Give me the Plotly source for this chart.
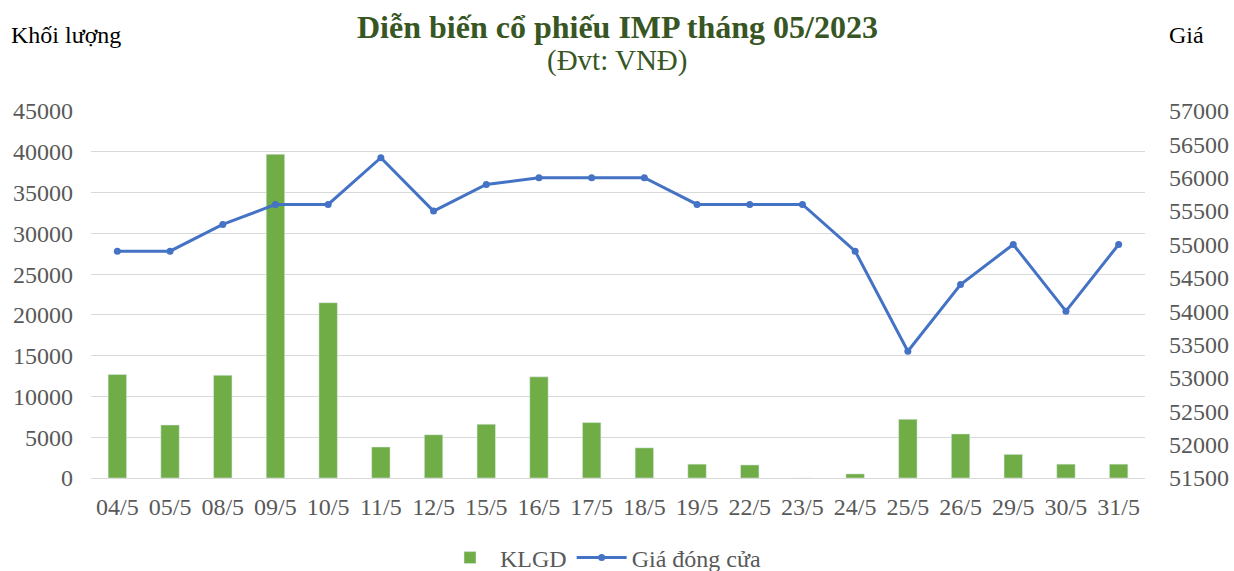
import plotly.graph_objects as go

dates = ["04/5","05/5","08/5","09/5","10/5","11/5","12/5","15/5","16/5","17/5",
         "18/5","19/5","22/5","23/5","24/5","25/5","26/5","29/5","30/5","31/5"]
klgd = [12700, 6500, 12600, 39700, 21500, 3800, 5300, 6600, 12400, 6800,
        3700, 1700, 1600, 0, 500, 7200, 5400, 2900, 1700, 1700]
gia = [54900, 54900, 55300, 55600, 55600, 56300, 55500, 55900, 56000, 56000,
       56000, 55600, 55600, 55600, 54900, 53400, 54400, 55000, 54000, 55000]

FONT = "Liberation Serif"
TICK = "#595959"
TS = 24

fig = go.Figure()
fig.add_trace(go.Bar(x=dates, y=klgd, name="KLGD", marker_color="#70AD47",
                     yaxis="y"))
fig.add_trace(go.Scatter(x=dates, y=gia, name="Giá đóng cửa", mode="lines+markers",
                         line=dict(color="#4472C4", width=3),
                         marker=dict(size=7, color="#4472C4"), yaxis="y2"))

W, H = 1234, 571
L, R, T, B = 91, 89, 111, 93
ph = H - T - B
pw = W - L - R
def py(pix):
    return (H - B - pix) / ph
def px(pix):
    return (pix - L) / pw

fig.update_layout(
    width=W, height=H,
    paper_bgcolor="white", plot_bgcolor="white",
    margin=dict(l=L, r=R, t=T, b=B, autoexpand=False),
    font=dict(family=FONT, size=TS, color=TICK),
    bargap=0.65,
    showlegend=True,
    legend=dict(orientation="h", x=px(440), xanchor="left",
                yref="container", y=(H - 558) / H, yanchor="middle",
                itemwidth=50,
                font=dict(family=FONT, size=24, color=TICK), traceorder="normal"),
    xaxis=dict(showgrid=False, showline=True, linecolor="#d9d9d9", linewidth=1,
               range=[-0.5, len(dates) - 0.5],
               ticks="", automargin=False, ticklabelstandoff=7,
               tickfont=dict(family=FONT, size=TS, color=TICK)),
    yaxis=dict(range=[0, 45000], dtick=5000, showgrid=True, gridcolor="#d9d9d9",
               zeroline=False, ticks="", tickformat="d", automargin=False,
               tickfont=dict(family=FONT, size=TS, color=TICK), ticklabelstandoff=17),
    yaxis2=dict(range=[51500, 57000], dtick=500, overlaying="y", side="right",
                showgrid=False, zeroline=False, ticks="", tickformat="d", automargin=False,
                tickfont=dict(family=FONT, size=TS, color=TICK), ticklabelstandoff=23),
)
fig.add_annotation(text="<b>Diễn biến cổ phiếu IMP tháng 05/2023</b>", x=px(617), xref="paper",
                   y=py(27), yref="paper", yanchor="middle", xanchor="center", showarrow=False,
                   font=dict(family=FONT, size=32, color="#375623"))
fig.add_annotation(text="(Đvt: VNĐ)", x=px(617), xref="paper", y=py(61), yref="paper",
                   yanchor="middle", xanchor="center", showarrow=False,
                   font=dict(family=FONT, size=29, color="#375623"))
fig.add_annotation(text="Khối lượng", x=px(9), xref="paper", y=py(35), yref="paper",
                   yanchor="middle", xanchor="left", showarrow=False,
                   font=dict(family=FONT, size=24, color="black"))
fig.add_annotation(text="Giá", x=px(1167), xref="paper", y=py(35), yref="paper",
                   yanchor="middle", xanchor="left", showarrow=False,
                   font=dict(family=FONT, size=24, color="black"))

fig.write_html("out.html", config={"displayModeBar": False},
               post_script="document.body.style.margin='0';document.body.style.overflow='hidden';")
